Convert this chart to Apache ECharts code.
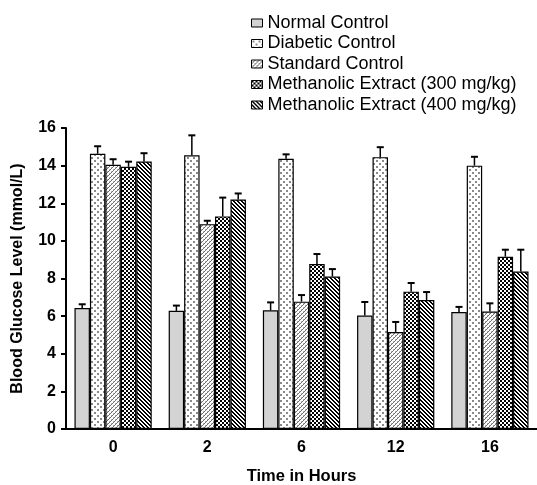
<!DOCTYPE html>
<html>
<head>
  <meta charset="utf-8">
  <title>Blood Glucose</title>
  <script src="https://cdn.jsdelivr.net/npm/echarts@6/dist/echarts.min.js"></script>
  <style>
    html, body { margin: 0; padding: 0; background: #fff; }
    #main { width: 537px; height: 485px; }
  </style>
</head>
<body>
<div id="main"></div>
<script>
  // data
  var hours = ['0', '2', '6', '12', '16'];
  var groupNames = ['Normal Control', 'Diabetic Control', 'Standard Control',
    'Methanolic Extract (300 mg/kg)', 'Methanolic Extract (400 mg/kg)'];
  var normalCtl = [6.43, 6.28, 6.31, 6.03, 6.22];
  var diabeticCtl = [14.63, 14.55, 14.36, 14.45, 14.0];
  var standardCtl = [14.04, 10.89, 6.77, 5.16, 6.24];
  var extract300 = [13.94, 11.3, 8.77, 7.3, 9.16];
  var extract400 = [14.22, 12.2, 8.1, 6.86, 8.37];
  // error bar (upper) sizes
  var normalErr = [0.2, 0.28, 0.42, 0.72, 0.27];
  var diabeticErr = [0.4, 1.06, 0.24, 0.53, 0.47];
  var standardErr = [0.3, 0.18, 0.35, 0.53, 0.44];
  var extract300Err = [0.27, 1.0, 0.53, 0.46, 0.37];
  var extract400Err = [0.44, 0.32, 0.4, 0.42, 1.16];
  var yTicks = [0, 2, 4, 6, 8, 10, 12, 14, 16];

  var values = [normalCtl, diabeticCtl, standardCtl, extract300, extract400];
  var errors = [normalErr, diabeticErr, standardErr, extract300Err, extract400Err];

  var FONT = '"Liberation Sans", Arial, sans-serif';
  var CAT_GAP = 0.18;

  // small tiles for the fill patterns
  function tile(w, h, draw) {
    var c = document.createElement('canvas');
    c.width = w; c.height = h;
    var ctx = c.getContext('2d');
    ctx.fillStyle = '#fff';
    ctx.fillRect(0, 0, w, h);
    draw(ctx);
    return { image: c, repeat: 'repeat' };
  }
  var fills = [
    '#d3d3d3',
    tile(6, 6, function (ctx) {
      ctx.fillStyle = '#8a8a8a';
      ctx.fillRect(1, 1, 2, 2);
      ctx.fillRect(4, 4, 2, 2);
    }),
    tile(4, 4, function (ctx) {
      ctx.fillStyle = '#707070';
      for (var i = 0; i < 4; i++) ctx.fillRect(3 - i, i, 1, 1);
      ctx.fillStyle = '#b0b0b0';
      ctx.fillRect(1, 1, 1, 1);
      ctx.fillRect(3, 3, 1, 1);
    }),
    tile(4, 4, function (ctx) {
      ctx.fillStyle = '#000';
      ctx.fillRect(0, 0, 2, 2);
      ctx.fillRect(2, 2, 2, 2);
    }),
    tile(4, 4, function (ctx) {
      ctx.fillStyle = '#000';
      for (var i = 0; i < 4; i++) {
        ctx.fillRect(i, i, 1, 1);
        ctx.fillRect((i + 1) % 4, i, 1, 1);
      }
    })
  ];

  var series = [];
  groupNames.forEach(function (name, k) {
    series.push({
      name: name,
      type: 'bar',
      data: values[k],
      barGap: '0%',
      barCategoryGap: (CAT_GAP * 100) + '%',
      itemStyle: { color: fills[k], borderColor: '#000', borderWidth: 1.2 },
      z: 2
    });
  });
  groupNames.forEach(function (name, k) {
    series.push({
      name: name + ' err',
      type: 'custom',
      z: 3,
      data: values[k].map(function (v, i) { return [i, v, errors[k][i]]; }),
      renderItem: function (params, api) {
        var band = api.size([1, 0])[0];
        var barW = band * (1 - CAT_GAP) / 5;
        var base = api.coord([api.value(0), api.value(1)]);
        var top = api.coord([api.value(0), api.value(1) + api.value(2)]);
        var x = base[0] - band * (1 - CAT_GAP) / 2 + barW * (k + 0.5);
        var cap = 3.5;
        return {
          type: 'group',
          children: [
            { type: 'line', shape: { x1: x, y1: base[1], x2: x, y2: top[1] }, style: { stroke: '#000', lineWidth: 1.5 } },
            { type: 'line', shape: { x1: x - cap, y1: top[1], x2: x + cap, y2: top[1] }, style: { stroke: '#000', lineWidth: 2 } }
          ]
        };
      }
    });
  });

  var chart = echarts.init(document.getElementById('main'));
  chart.setOption({
    animation: false,
    backgroundColor: '#fff',
    textStyle: { fontFamily: FONT },
    legend: {
      data: groupNames,
      orient: 'vertical',
      left: 251,
      top: 14,
      itemWidth: 11,
      itemHeight: 8,
      itemGap: 2.5,
      padding: 0,
      selectedMode: false,
      icon: 'rect',
      itemStyle: { borderColor: '#000', borderWidth: 1 },
      textStyle: { fontFamily: FONT, fontSize: 18, color: '#000', lineHeight: 18 }
    },
    grid: { left: 66, right: 0, top: 128, bottom: 56, containLabel: false, outerBoundsMode: 'none' },
    xAxis: {
      type: 'category',
      data: hours,
      name: 'Time in Hours',
      nameLocation: 'middle',
      nameGap: 39,
      nameTextStyle: { fontFamily: FONT, fontSize: 16.5, fontWeight: 'bold', color: '#000' },
      axisLine: { lineStyle: { color: '#000', width: 2 } },
      axisTick: { alignWithLabel: true, length: 5, lineStyle: { color: '#000', width: 2 } },
      axisLabel: { fontFamily: FONT, fontSize: 16, fontWeight: 'bold', color: '#000', margin: 11 }
    },
    yAxis: {
      type: 'value',
      min: yTicks[0],
      max: yTicks[yTicks.length - 1],
      interval: 2,
      name: 'Blood Glucose Level (mmol/L)',
      nameLocation: 'middle',
      nameGap: 40,
      nameTextStyle: { fontFamily: FONT, fontSize: 16, fontWeight: 'bold', color: '#000' },
      axisLine: { show: true, lineStyle: { color: '#000', width: 2 } },
      axisTick: { show: true, length: 5, lineStyle: { color: '#000', width: 2 } },
      axisLabel: { fontFamily: FONT, fontSize: 16, fontWeight: 'bold', color: '#000', margin: 10 },
      splitLine: { show: false }
    },
    series: series
  });
</script>
</body>
</html>
